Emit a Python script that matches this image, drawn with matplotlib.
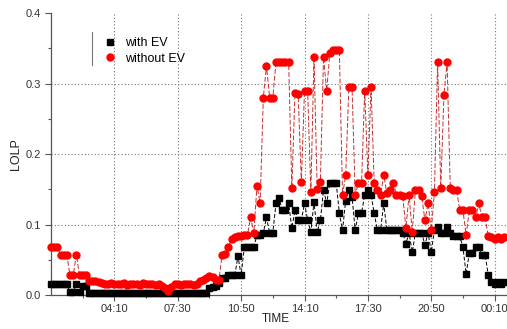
import numpy as np
import matplotlib.pyplot as plt
from matplotlib.lines import Line2D

plt.rcParams['font.family'] = ['Liberation Sans', 'DejaVu Sans']

# temps en minutes depuis minuit, un point toutes les 10 min à partir de 00:50
start_min = 50
step_min = 10

# LOLP avec VE (carrés noirs)
with_ev = [
    0.015, 0.015, 0.015, 0.015, 0.015, 0.015, 0.004, 0.004, 0.015, 0.004, 0.013, 0.013,
    0.003, 0.003, 0.003, 0.003, 0.003, 0.003, 0.003, 0.003, 0.003, 0.003, 0.003, 0.003,
    0.003, 0.003, 0.003, 0.003, 0.003, 0.003, 0.003, 0.003, 0.003, 0.003, 0.003, 0.003,
    0.003, 0.003, 0.003, 0.003, 0.003, 0.003, 0.003, 0.003, 0.003, 0.003, 0.003, 0.003,
    0.003, 0.003, 0.010, 0.011, 0.013, 0.017, 0.024, 0.024, 0.028, 0.028, 0.028, 0.055,
    0.028, 0.068, 0.068, 0.068, 0.068, 0.085, 0.085, 0.088, 0.110, 0.088, 0.088, 0.130,
    0.137, 0.120, 0.120, 0.130, 0.095, 0.120, 0.106, 0.106, 0.130, 0.106, 0.089, 0.132,
    0.089, 0.106, 0.149, 0.130, 0.159, 0.159, 0.159, 0.116, 0.092, 0.134, 0.149, 0.139,
    0.092, 0.116, 0.116, 0.142, 0.149, 0.142, 0.116, 0.092, 0.092, 0.130, 0.092, 0.092,
    0.092, 0.092, 0.092, 0.088, 0.073, 0.088, 0.061, 0.088, 0.088, 0.088, 0.071, 0.088,
    0.061, 0.092, 0.097, 0.088, 0.088, 0.097, 0.088, 0.083, 0.083, 0.083, 0.068, 0.030,
    0.059, 0.059, 0.068, 0.068, 0.057, 0.057, 0.028, 0.018, 0.016, 0.018, 0.016, 0.018,
]

# LOLP sans VE (ronds rouges)
without_ev = [
    0.068, 0.068, 0.068, 0.057, 0.057, 0.057, 0.028, 0.028, 0.057, 0.028, 0.028, 0.028,
    0.020, 0.020, 0.020, 0.018, 0.017, 0.016, 0.015, 0.017, 0.016, 0.015, 0.016, 0.017,
    0.014, 0.016, 0.015, 0.016, 0.014, 0.017, 0.015, 0.016, 0.015, 0.014, 0.016, 0.013,
    0.010, 0.006, 0.012, 0.015, 0.015, 0.014, 0.015, 0.016, 0.015, 0.014, 0.016, 0.020,
    0.022, 0.024, 0.027, 0.025, 0.022, 0.022, 0.057, 0.058, 0.068, 0.080, 0.082, 0.083,
    0.084, 0.085, 0.085, 0.110, 0.088, 0.155, 0.130, 0.280, 0.325, 0.280, 0.280, 0.330,
    0.330, 0.330, 0.330, 0.330, 0.152, 0.287, 0.285, 0.160, 0.290, 0.289, 0.146, 0.337,
    0.150, 0.160, 0.337, 0.290, 0.343, 0.347, 0.347, 0.347, 0.142, 0.170, 0.295, 0.295,
    0.142, 0.159, 0.159, 0.290, 0.170, 0.295, 0.159, 0.149, 0.142, 0.170, 0.144, 0.149,
    0.159, 0.142, 0.142, 0.140, 0.095, 0.142, 0.089, 0.149, 0.149, 0.140, 0.106, 0.130,
    0.092, 0.146, 0.330, 0.152, 0.284, 0.330, 0.152, 0.149, 0.149, 0.120, 0.120, 0.085,
    0.120, 0.120, 0.110, 0.130, 0.110, 0.110, 0.083, 0.082, 0.080, 0.082, 0.080, 0.082,
]

tick_labels = ["04:10", "07:30", "10:50", "14:10", "17:30", "20:50", "00:10"]
tick_pos = [250, 450, 650, 850, 1050, 1250, 1450]

t = start_min + step_min * np.arange(len(with_ev))

fig = plt.figure(figsize=(5.07, 3.29), dpi=100)
ax = fig.add_axes([0.1006, 0.1033, 0.905, 0.8572])

ax.plot(t, with_ev, color='black', ls=(0, (4, 2)), lw=0.7,
        marker='s', ms=4.3, mec='black', mfc='black', clip_on=False, zorder=3)
ax.plot(t, without_ev, color='#c83030', ls=(0, (5, 2)), lw=0.7,
        marker='o', ms=5, mec='red', mfc='red', clip_on=False, zorder=4)

ax.set_xlim(50, 1498)
ax.set_ylim(0, 0.4)
ax.set_xticks(tick_pos)
ax.set_xticklabels(tick_labels)
ax.set_xticks([150 + 200 * k for k in range(7)], minor=True)
ax.set_yticks([0.0, 0.1, 0.2, 0.3, 0.4])
ax.set_yticklabels(["0.0", "0.1", "0.2", "0.3", "0.4"])
ax.set_yticks([0.05, 0.15, 0.25, 0.35], minor=True)

# grille pointillée
for x in tick_pos:
    ax.axvline(x, color='#777777', ls=(0, (1, 2)), lw=0.8, zorder=1)
for y in [0.1, 0.2, 0.3]:
    ax.axhline(y, color='#777777', ls=(0, (1, 2)), lw=0.8, zorder=1)

for s in ['top', 'right']:
    ax.spines[s].set_visible(False)
for s in ['left', 'bottom']:
    ax.spines[s].set_color('#555555')
    ax.spines[s].set_linewidth(0.9)
ax.tick_params(which='major', direction='out', length=4, width=0.8,
               colors='#555555', labelcolor='#333333', labelsize=8)
ax.tick_params(axis='x', which='major', pad=2.5)
ax.tick_params(which='minor', direction='out', length=2.5, width=0.8, colors='#555555')

ax.set_ylabel("LOLP", fontsize=9, color='#222222', labelpad=2)
ax.set_xlabel("TIME", fontsize=8.5, color='#222222')
ax.xaxis.set_label_coords(0.49, -0.064)

handles = [
    Line2D([], [], ls='none', marker='s', ms=4.3, color='black'),
    Line2D([], [], ls='none', marker='o', ms=5, color='red'),
]
ax.legend(handles, ["with EV", "without EV"], loc='upper left',
          bbox_to_anchor=(0.087, 0.955), frameon=False, fontsize=9,
          handletextpad=0.6, handlelength=1.2, labelspacing=0.3)
fig.add_artist(Line2D([92 / 507, 92 / 507], [1 - 32 / 329, 1 - 65 / 329],
                      color='#777777', lw=0.8))

fig.savefig("out.png", dpi=100)
